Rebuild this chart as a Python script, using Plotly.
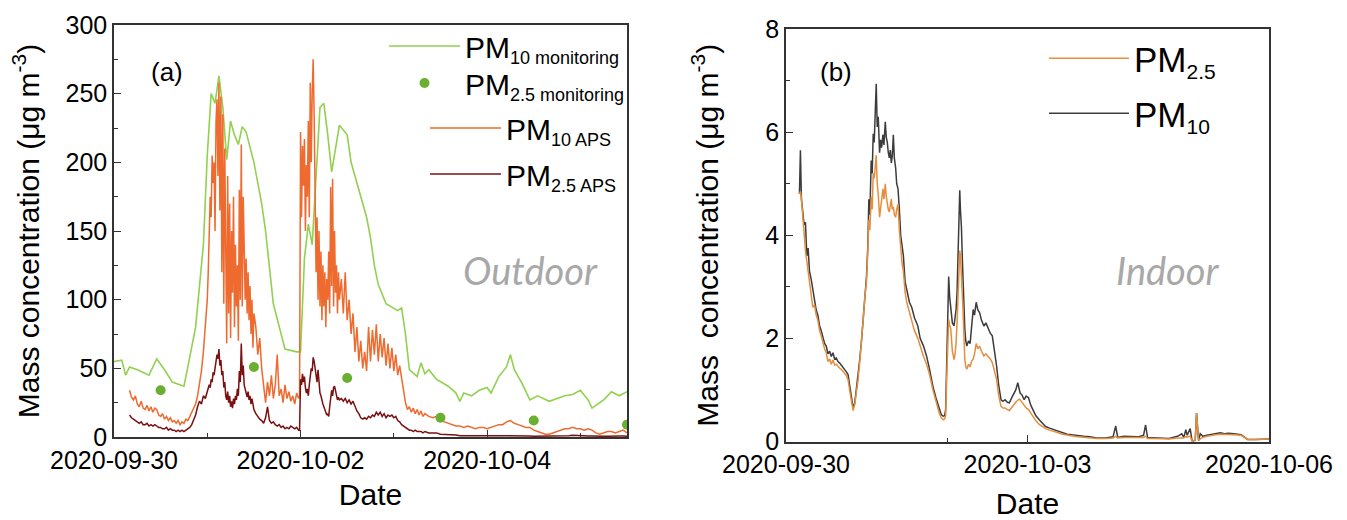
import numpy as np
import pandas as pd
import plotly.graph_objects as go

START = pd.Timestamp("2020-09-30 00:00")

# ---------------- Panel (a): outdoor ----------------
# PM10 from monitoring station (hours after 2020-09-30 00:00)
pm10_mon_hours = [0, 2, 3, 4, 6, 9, 11, 13, 15, 18, 19, 21, 23, 24, 25, 26, 27, 28, 29, 30,
                  31, 32, 33, 34, 36, 37, 38, 39, 40, 41, 44, 47, 48, 49, 50, 51, 53, 54, 55, 56,
                  57, 58, 60, 61, 63, 65, 66, 67, 68, 70, 73, 74, 75, 76, 78, 79, 80, 81, 83, 86,
                  88, 89, 90, 92, 94, 96, 97, 99, 101, 102, 103, 105, 107, 109, 112, 114, 116, 118, 120, 122,
                  123, 126, 128, 130, 132]
pm10_mon_values = [55, 56, 45, 51, 49, 45, 57, 49, 40, 37, 51, 80, 140, 205, 250, 243, 263, 240, 202, 230,
                   220, 213, 226, 222, 200, 185, 170, 150, 125, 97, 64, 62, 62, 130, 155, 140, 240, 243, 220, 193,
                   210, 227, 220, 200, 180, 160, 145, 125, 111, 97, 92, 94, 75, 49, 44, 54, 46, 49, 42, 37,
                   32, 26, 32, 30, 34, 36, 32, 44, 51, 60, 49, 39, 27, 30, 26, 28, 30, 31, 34, 27,
                   21, 27, 33, 30, 33]

# PM2.5 daily means from monitoring station (plotted at noon)
pm25_mon_hours = [12, 36, 60, 84, 108, 132]
pm25_mon_values = [34, 51, 43, 14, 12, 9]

# APS sampling grid: (start hour, step in hours, number of samples)
aps_segments = [(4.0, 0.5, 41), (24.25, 0.25, 48), (36.5, 0.5, 23),
                (47.75, 0.25, 42), (58.5, 0.5, 44), (81.0, 1.0, 52)]

pm10_aps = [
    # 4.0 - 24.0
    34, 29, 27, 30, 24, 22, 26, 21, 20, 23, 19, 22, 18, 21, 20, 16, 15, 17, 13, 15,
    12, 14, 11, 12, 10, 12, 9, 11, 10, 13, 12, 15, 17, 20, 24, 30, 38, 48, 62, 80, 100,
    # 24.25 - 36.0
    120, 140, 175, 160, 205, 185, 200, 150, 230, 246, 190, 258, 165, 248, 120, 235, 97, 210, 130, 68,
    190, 90, 170, 72, 150, 105, 175, 80, 140, 95, 125, 70, 180, 100, 213, 95, 175, 120, 100, 130,
    90, 120, 85, 110, 75, 100, 65, 90,
    # 36.5 - 47.5
    80, 60, 72, 50, 35, 25, 40, 30, 45, 28, 38, 60, 30, 35, 25, 38, 28, 33, 26, 30, 24, 32, 28,
    # 47.75 - 58.0
    30, 222, 160, 212, 183, 217, 150, 198, 175, 230, 160, 258, 200, 250, 275, 234, 178, 120, 160, 100,
    150, 95, 135, 85, 125, 95, 120, 80, 115, 100, 135, 90, 182, 110, 188, 95, 150, 105, 125, 90,
    120, 100,
    # 58.5 - 80.0
    115, 90, 120, 85, 100, 75, 90, 62, 80, 55, 70, 50, 62, 48, 80, 55, 78, 60, 82, 55,
    75, 58, 72, 52, 68, 50, 65, 48, 60, 45, 52, 42, 35, 25, 20, 22, 18, 21, 17, 20,
    16, 19, 15, 17,
    # 81 - 132
    15, 14, 15, 12, 11, 10, 9, 8, 8, 7, 8, 7, 6, 7, 7, 6, 7, 8, 9, 9,
    11, 12, 10, 9, 8, 7, 7, 5, 4, 3, 2, 2, 3, 4, 5, 6, 6, 7, 6, 6,
    5, 6, 5, 3, 2, 3, 4, 4, 3, 4, 5, 3,
]

pm25_aps = [
    # 4.0 - 24.0
    16, 14, 13, 12, 11, 10, 11, 9, 9, 10, 8, 9, 8, 9, 8, 7, 7, 6, 6, 7,
    5, 6, 5, 5, 4, 5, 4, 5, 4, 5, 6, 7, 9, 12, 16, 22, 26, 24, 30, 28, 33,
    # 24.25 - 36.0
    35, 38, 36, 42, 40, 47, 45, 51, 55, 60, 57, 64, 52, 56, 45, 48, 36, 40, 30, 27,
    33, 25, 30, 22, 26, 21, 28, 24, 30, 27, 35, 30, 48, 40, 68, 45, 52, 38, 35, 32,
    29, 33, 27, 30, 24, 28, 22, 20,
    # 36.5 - 47.5
    17, 15, 13, 12, 10, 14, 22, 12, 10, 11, 9, 8, 9, 7, 8, 6, 7, 6, 8, 7, 6, 7, 5,
    # 47.75 - 58.0
    5, 42, 38, 46, 40, 44, 36, 32, 35, 30, 38, 45, 50, 48, 58, 55, 49, 45, 40, 49,
    38, 32, 30, 26, 24, 22, 20, 18, 16, 17, 15, 22, 28, 34, 30, 36, 37, 33, 30, 27,
    29, 27,
    # 58.5 - 80.0
    28, 26, 28, 25, 27, 24, 26, 22, 19, 17, 14, 13, 14, 13, 15, 14, 16, 15, 18, 16,
    18, 15, 17, 14, 16, 15, 16, 14, 15, 12, 11, 9, 8, 7, 6, 5, 5, 4, 5, 4,
    4, 4, 3, 4,
    # 81 - 132
    3, 3, 3, 2, 2, 2, 1.5, 1.5, 1, 1, 1, 1, 1, 1, 0.8, 0.8, 0.8, 1, 1, 1,
    1, 1.2, 1, 1, 0.8, 0.8, 0.8, 0.6, 0.6, 0.5, 0.5, 0.5, 0.5, 0.6, 0.8, 1, 1, 1.2, 1, 1,
    0.8, 0.8, 0.8, 0.6, 0.5, 0.5, 0.6, 0.8, 1, 0.8, 0.8, 0.6,
]

# ---------------- Panel (b): indoor ----------------
indoor_hours = [4.0, 4.3, 4.6, 5.0, 5.4, 5.8, 6.2, 6.6, 7.0, 7.5, 8.0, 8.5, 9.0, 9.5, 10.0, 10.5, 11.0, 11.5,
                12.0, 12.5, 13.0, 13.5, 14.0, 14.5, 15.0, 15.5, 16.0, 16.5, 17.0, 17.5, 18.0, 18.5, 19.0,
                19.5, 20.0, 20.5, 21.0, 21.5, 22.0, 22.5, 23.0, 23.5, 24.0, 24.4, 24.7, 25.0, 25.4, 25.7,
                26.0, 26.3, 26.6, 26.9, 27.2, 27.5, 27.9, 28.2, 28.5, 28.9, 29.2, 29.6, 29.9, 30.2, 30.5,
                30.8, 31.1, 31.4, 31.7, 32.0, 32.3, 32.7, 33.0, 33.4, 33.8, 34.2, 34.6, 35.0, 35.5, 36.0,
                36.8, 37.5, 38.3, 39.3, 40.0, 41.0, 41.9, 42.8, 43.8, 44.7, 45.7, 46.3, 46.9, 47.3, 47.6,
                47.9, 48.2, 48.5, 48.8, 49.1, 49.6, 50.1, 50.4, 50.7, 51.0, 51.2, 51.5, 51.8, 52.0, 52.3,
                52.6, 52.8, 53.0, 53.3, 53.6, 53.9, 54.4, 54.9, 55.3, 55.8, 56.2, 56.7, 57.2, 57.7, 58.3,
                59.0, 59.6, 60.3, 60.9, 61.5, 62.1, 62.8, 63.4, 64.1, 64.7, 65.3, 66.0, 66.6, 67.3, 67.9,
                68.5, 69.1, 69.5, 69.8, 70.4, 71.0, 71.6, 72.3, 73.0, 73.6, 74.5, 75.5, 76.5, 77.4, 78.6,
                79.9, 81.2, 82.5, 83.8, 85.0, 87.0, 88.8, 90.6, 92.6, 95.1, 97.5, 98.3, 98.9, 100.8, 102.7,
                105.0, 106.6, 107.2, 107.8, 110.0, 112.0, 114.2, 116.7, 118.0, 118.6, 119.2, 119.6, 120.1,
                120.5, 121.1, 122.0, 122.4, 123.0, 123.5, 124.3, 125.5, 126.8, 128.1, 129.5, 130.7, 131.9,
                133.5, 135.7, 136.8, 137.6, 140.0, 142.0, 144.0]
indoor_pm10 = [4.8, 5.65, 4.7, 4.4, 4.2, 4.25, 3.6, 3.75, 3.3, 3.15, 2.95, 2.7, 2.55, 2.45, 2.25, 2.15, 2.0, 1.9,
               1.85, 1.7, 1.75, 1.65, 1.72, 1.6, 1.62, 1.55, 1.52, 1.48, 1.45, 1.4, 1.35, 1.3, 1.05,
               0.8, 0.65, 0.75, 1.0, 1.25, 1.6, 1.95, 2.4, 2.9, 3.2, 3.8, 4.7, 4.4, 5.45, 5.2,
               5.97, 5.8, 6.4, 6.94, 6.1, 6.3, 5.6, 5.85, 5.7, 5.95, 5.75, 6.2, 5.9, 5.8, 5.6,
               5.5, 5.65, 5.4, 5.55, 5.95, 5.5, 5.3, 5.0, 4.9, 4.5, 4.0, 3.8, 3.6, 3.1, 2.95,
               2.7, 2.6, 2.4, 2.24, 2.0, 1.85, 1.66, 1.4, 1.07, 0.85, 0.62, 0.52, 0.49, 0.5, 0.62,
               1.5, 2.6, 3.2, 2.8, 2.56, 2.3, 2.24, 2.4, 2.56, 2.9, 3.3, 4.1, 4.87, 4.5, 4.16,
               3.5, 3.0, 2.5, 2.2, 1.95, 1.85, 1.95, 1.9, 2.2, 2.56, 2.45, 2.7, 2.55, 2.5, 2.35,
               2.24, 2.3, 2.2, 2.1, 2.05, 1.8, 1.46, 1.1, 0.81, 0.78, 0.81, 0.76, 0.75, 0.85, 0.94,
               1.0, 1.14, 1.0, 0.94, 0.9, 0.81, 0.88, 0.85, 0.7, 0.62, 0.5, 0.42, 0.35, 0.29, 0.26,
               0.23, 0.19, 0.16, 0.14, 0.13, 0.11, 0.10, 0.09, 0.07, 0.07, 0.09, 0.3, 0.08, 0.1, 0.1,
               0.09, 0.12, 0.32, 0.08, 0.07, 0.06, 0.06, 0.1, 0.15, 0.08, 0.23, 0.12, 0.2,
               0.25, 0.0, 0.02, 0.55, 0.02, 0.15, 0.1, 0.12, 0.14, 0.15, 0.17, 0.15, 0.16,
               0.15, 0.13, 0.08, 0.04, 0.04, 0.05, 0.05]
indoor_pm25 = [4.8, 4.85, 4.7, 4.3, 3.95, 3.7, 3.5, 3.3, 3.1, 2.75, 2.6, 2.65, 2.45, 2.35, 2.15, 2.05, 1.9, 1.8,
               1.72, 1.55, 1.6, 1.5, 1.58, 1.48, 1.5, 1.45, 1.42, 1.4, 1.35, 1.32, 1.28, 1.2, 0.98,
               0.75, 0.6, 0.72, 0.95, 1.2, 1.55, 1.9, 2.35, 2.8, 3.1, 3.7, 4.3, 4.1, 4.75, 4.5,
               5.2, 5.1, 5.4, 5.55, 5.0, 4.8, 4.35, 4.5, 4.6, 4.9, 4.7, 5.0, 4.75, 4.6, 4.5,
               4.45, 4.6, 4.7, 4.5, 4.55, 4.4, 4.35, 4.5, 4.6, 4.1, 3.7, 3.45, 3.3, 2.9, 2.7,
               2.5, 2.35, 2.15, 2.0, 1.85, 1.65, 1.5, 1.3, 1.0, 0.78, 0.55, 0.46, 0.42, 0.44, 0.5,
               1.2, 2.0, 2.37, 2.25, 2.2, 1.75, 1.59, 1.7, 1.9, 2.3, 2.6, 3.3, 3.7, 3.6, 3.3,
               2.8, 2.5, 2.0, 1.6, 1.45, 1.4, 1.5, 1.45, 1.55, 1.6, 1.7, 1.9, 1.8, 1.85, 1.75,
               1.66, 1.7, 1.65, 1.6, 1.53, 1.4, 1.2, 0.9, 0.68, 0.65, 0.65, 0.62, 0.6, 0.66, 0.72,
               0.76, 0.8, 0.82, 0.81, 0.75, 0.7, 0.65, 0.62, 0.55, 0.49, 0.4, 0.33, 0.29, 0.25, 0.22,
               0.2, 0.17, 0.14, 0.12, 0.11, 0.09, 0.08, 0.07, 0.06, 0.06, 0.07, 0.1, 0.07, 0.08, 0.08,
               0.07, 0.08, 0.1, 0.06, 0.06, 0.05, 0.05, 0.07, 0.08, 0.07, 0.1, 0.08, 0.1,
               0.1, 0.0, 0.02, 0.55, 0.02, 0.05, 0.08, 0.1, 0.12, 0.13, 0.14, 0.14, 0.14,
               0.13, 0.12, 0.07, 0.04, 0.04, 0.05, 0.05]

# ---------------- derived time stamps ----------------
def to_time(hours):
    return [START + pd.Timedelta(hours=float(h)) for h in hours]

aps_hours = []
for h0, step, n in aps_segments:
    aps_hours += [h0 + step * i for i in range(n)]
n_aps = min(len(aps_hours), len(pm10_aps), len(pm25_aps))
aps_times = to_time(aps_hours[:n_aps])

n_in = min(len(indoor_hours), len(indoor_pm10), len(indoor_pm25))
indoor_times = to_time(indoor_hours[:n_in])

FONT = "Liberation Sans, Arial, sans-serif"
GREEN_LINE = "#92D050"
GREEN_DOT = "#6AAF32"
ORANGE_APS = "#EE6A2E"
DARK_RED = "#7A1010"
ORANGE_IN = "#E48E3E"
GRAY_IN = "#3C3C3C"


def pm(sub, size):
    return 'PM<sub><span style="font-size:%dpx">%s</span></sub>' % (size, sub)


fig = go.Figure()
fig.add_trace(go.Scatter(x=to_time(pm10_mon_hours), y=pm10_mon_values, mode="lines",
                         line=dict(color=GREEN_LINE, width=1.6),
                         name=pm("10 monitoring", 18), xaxis="x", yaxis="y", legend="legend"))
fig.add_trace(go.Scatter(x=aps_times, y=pm10_aps[:n_aps], mode="lines",
                         line=dict(color=ORANGE_APS, width=1.5),
                         name=pm("10 APS", 18), xaxis="x", yaxis="y", legend="legend3"))
fig.add_trace(go.Scatter(x=aps_times, y=pm25_aps[:n_aps], mode="lines",
                         line=dict(color=DARK_RED, width=1.5),
                         name=pm("2.5 APS", 18), xaxis="x", yaxis="y", legend="legend4"))
fig.add_trace(go.Scatter(x=to_time(pm25_mon_hours), y=pm25_mon_values, mode="markers",
                         marker=dict(color=GREEN_DOT, size=10),
                         name=pm("2.5 monitoring", 18), xaxis="x", yaxis="y", legend="legend2"))
fig.add_trace(go.Scatter(x=indoor_times, y=indoor_pm10[:n_in], mode="lines",
                         line=dict(color=GRAY_IN, width=1.5),
                         name=pm("10", 21), xaxis="x2", yaxis="y2", legend="legend6"))
fig.add_trace(go.Scatter(x=indoor_times, y=indoor_pm25[:n_in], mode="lines",
                         line=dict(color=ORANGE_IN, width=1.5),
                         name=pm("2.5", 21), xaxis="x2", yaxis="y2", legend="legend5"))

W, H = 1347, 520


def px(x):
    return x / W


def py(y):
    return 1 - y / H


axis_common = dict(showline=True, linecolor="#333333", linewidth=1.5, mirror=True,
                   ticks="inside", ticklen=7, tickwidth=1.2, tickcolor="#333333",
                   showgrid=False, zeroline=False, automargin=False,
                   tickfont=dict(family=FONT, size=25, color="black"),
                   title_font=dict(family=FONT, size=30, color="black"))


def leg(x, top, iw, size):
    return dict(x=px(x), y=py(top), xanchor="left", yanchor="top", itemwidth=iw,
                bgcolor="rgba(0,0,0,0)", font=dict(family=FONT, size=size, color="black"),
                tracegroupgap=0)


fig.update_layout(
    width=W, height=H, margin=dict(l=0, r=0, t=0, b=0),
    paper_bgcolor="white", plot_bgcolor="white",
    font=dict(family=FONT, color="black"),
    xaxis=dict(domain=[px(114), px(627)], anchor="y",
               range=[START, START + pd.Timedelta(hours=132)],
               type="date", tick0=START, dtick=2 * 86400000, tickformat="%Y-%m-%d",
               minor=dict(dtick=86400000, tick0=START, ticks="inside", ticklen=4, tickcolor="#333333"),
               title=dict(text="Date", standoff=11), **axis_common),
    yaxis=dict(domain=[py(437), py(25)], anchor="x", range=[0, 300], dtick=50,
               minor=dict(dtick=25, ticks="inside", ticklen=4, tickcolor="#333333"),
               title=dict(text="Mass concentration (μg m<sup>-3</sup>)", standoff=17), **axis_common),
    xaxis2=dict(domain=[px(786), px(1269)], anchor="y2",
                range=[START, START + pd.Timedelta(hours=144)],
                type="date", tick0=START, dtick=3 * 86400000, tickformat="%Y-%m-%d",
                minor=dict(tickmode="array", tickvals=[START + pd.Timedelta(hours=48)],
                           ticks="inside", ticklen=4, tickcolor="#333333"),
                title=dict(text="Date", standoff=21), **axis_common),
    yaxis2=dict(domain=[py(441.5), py(29)], anchor="x2", range=[0, 8], dtick=2,
                minor=dict(dtick=1, ticks="inside", ticklen=4, tickcolor="#333333"),
                title=dict(text="Mass&nbsp; concentration (μg m<sup>-3</sup>)", standoff=38), **axis_common),
    legend=leg(384, 20, 71, 30),
    legend2=leg(384, 57, 71, 30),
    legend3=leg(425, 102, 71, 30),
    legend4=leg(425, 148, 71, 30),
    legend5=leg(1044, 29, 80, 35),
    legend6=leg(1044, 84, 80, 35),
    showlegend=True,
)

label_common = dict(xref="paper", yref="paper", showarrow=False, xanchor="center", yanchor="middle")
fig.add_annotation(text="(a)", x=px(167), y=py(72), font=dict(family=FONT, size=26, color="black"),
                   **label_common)
fig.add_annotation(text="(b)", x=px(836), y=py(72), font=dict(family=FONT, size=26, color="black"),
                   **label_common)
fig.add_annotation(text="<i>Outdoor</i>", x=px(530), y=py(270),
                   font=dict(family="Lato, Open Sans, sans-serif", size=38, color="#A8A8A8"),
                   **label_common)
fig.add_annotation(text="<i>Indoor</i>", x=px(1168), y=py(270),
                   font=dict(family="Lato, Open Sans, sans-serif", size=38, color="#A8A8A8"),
                   **label_common)

fig.write_html("out.html")
